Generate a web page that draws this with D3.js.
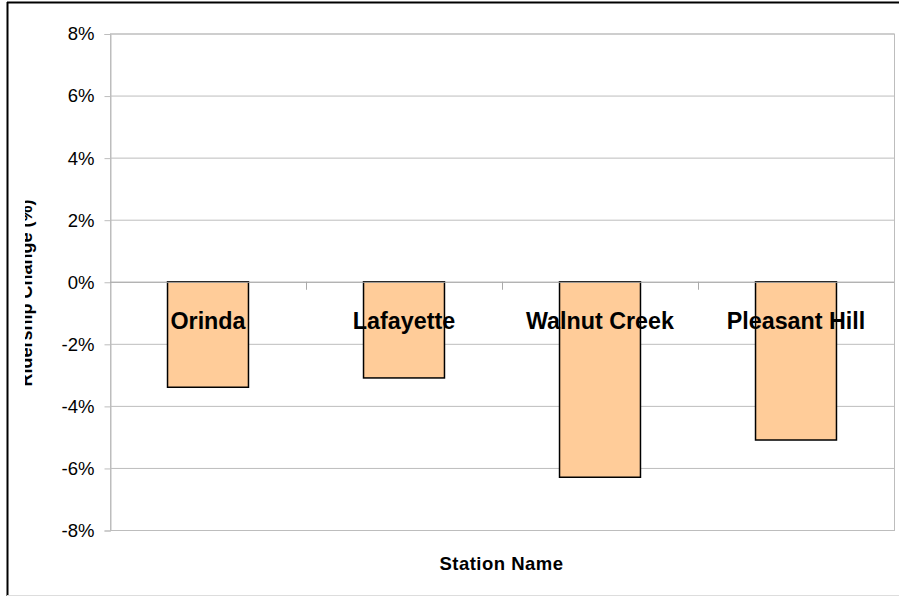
<!DOCTYPE html>
<html><head><meta charset="utf-8">
<script src="https://cdn.jsdelivr.net/npm/d3@7"></script>
<style>html,body{margin:0;padding:0;background:#fff;}svg{display:block;font-family:"Liberation Sans",Arial,sans-serif;}</style>
</head><body>
<svg id="c" width="899" height="596"></svg>
<script>
const stations = ["Orinda", "Lafayette", "Walnut Creek", "Pleasant Hill"];
const changes = [-3.4, -3.1, -6.3, -5.1];
const yTicks = [-8, -6, -4, -2, 0, 2, 4, 6, 8];

const svg = d3.select("#c");
const L = 110, R = 894, T = 33.5, B = 530;

// outer frame
svg.append("line").attr("x1",7.5).attr("x2",7.5).attr("y1",2).attr("y2",596).attr("stroke","#000").attr("stroke-width",2);
svg.append("line").attr("x1",7).attr("x2",899).attr("y1",2.5).attr("y2",2.5).attr("stroke","#000").attr("stroke-width",2);
svg.append("line").attr("x1",7).attr("x2",899).attr("y1",595.5).attr("y2",595.5).attr("stroke","#ddd").attr("stroke-width",1);

const x = d3.scaleBand().domain(stations).range([L, R]).paddingInner(0.587).paddingOuter(0.2935);
const y = d3.scaleLinear().domain([-8, 8]).range([B, T]);

// gridlines
svg.append("g").selectAll("line").data(yTicks).join("line")
  .attr("x1", L).attr("x2", R)
  .attr("y1", d => y(d) + 0.5).attr("y2", d => y(d) + 0.5)
  .attr("stroke", "#bdbdbd").attr("stroke-width", 1);
// plot border
svg.append("rect").attr("x", L + 0.5).attr("y", y(8) + 0.5).attr("width", R - L).attr("height", y(-8) - y(8))
  .attr("fill", "none").attr("stroke", "#bdbdbd");

// y axis
const yAxis = d3.axisLeft(y).tickValues(yTicks).tickFormat(d => d + "%").tickSize(6).tickPadding(10);
const ga = svg.append("g").attr("transform", `translate(${L + 0.5},0.5)`).call(yAxis);
ga.select(".domain").attr("stroke", "#bdbdbd");
ga.selectAll(".tick line").attr("stroke", "#bdbdbd");
ga.selectAll(".tick text").attr("font-size", 18.5).attr("fill", "#000")
  .attr("font-family", "'Liberation Sans', Arial, sans-serif");

// bars
svg.append("g").selectAll("rect").data(stations).join("rect")
  .attr("x", d => x(d))
  .attr("y", (d, i) => y(Math.max(0, changes[i])))
  .attr("width", x.bandwidth())
  .attr("height", (d, i) => Math.abs(y(changes[i]) - y(0)))
  .attr("fill", "#ffcc99").attr("stroke", "#000").attr("stroke-width", 1.5);

// x axis at zero with category boundary ticks
svg.append("line").attr("x1", L).attr("x2", R).attr("y1", y(0) + 0.5).attr("y2", y(0) + 0.5).attr("stroke", "#aaa");
const step = x.step();
const bounds = d3.range(1, stations.length).map(i => L + i * step);
svg.append("g").selectAll("line").data(bounds).join("line")
  .attr("x1", d => d + 0.5).attr("x2", d => d + 0.5)
  .attr("y1", y(0)).attr("y2", y(0) + 8)
  .attr("stroke", "#aaa");

// category labels
svg.append("g").selectAll("text").data(stations).join("text")
  .attr("x", d => x(d) + x.bandwidth() / 2)
  .attr("y", 328.5)
  .attr("text-anchor", "middle")
  .attr("font-size", 23.3).attr("font-weight", "bold").attr("fill", "#000")
  .text(d => d);

// x title
svg.append("text").attr("x", 501.5).attr("y", 569.5).attr("text-anchor", "middle")
  .attr("font-size", 18.5).attr("font-weight", "bold").attr("letter-spacing", 0.5).text("Station Name");

// y title (clipped)
const defs = svg.append("defs");
defs.append("clipPath").attr("id", "yclip").append("rect").attr("x", 25).attr("y", 0).attr("width", 60).attr("height", 596);
svg.append("g").attr("clip-path", "url(#yclip)")
  .append("text").attr("transform", "translate(32,293) rotate(-90)")
  .attr("text-anchor", "middle").attr("font-size", 18).attr("font-weight", "bold")
  .text("Ridership Change (%)");
</script>
</body></html>
